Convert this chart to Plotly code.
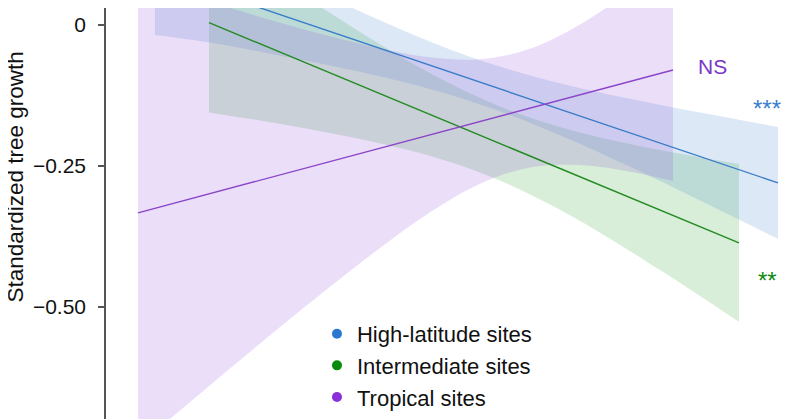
import plotly.graph_objects as go

# ---- data ----
# x: arbitrary predictor units (axis not visible in the crop)
high_x = [0.49, 1.04, 1.64, 2.24, 2.84, 3.44, 4.04, 4.64, 5.24, 5.94, 6.72]
high_hi = [0.2002, 0.1518, 0.0995, 0.0488, 0.0002, -0.0434, -0.0794, -0.1078, -0.1310, -0.1555, -0.1809]
high_lo = [-0.0177, -0.0312, -0.0509, -0.0718, -0.0952, -0.1236, -0.1596, -0.2032, -0.2516, -0.3112, -0.3794]
high_fit_x = [0.49, 6.72]
high_fit_y = [0.0933, -0.2801]

mid_x = [1.03, 1.54, 2.04, 2.54, 3.04, 3.54, 4.04, 4.54, 5.04, 5.54, 5.94, 6.33]
mid_hi = [0.1633, 0.1025, 0.0441, -0.0124, -0.0656, -0.1129, -0.1518, -0.1812, -0.2037, -0.2220, -0.2349, -0.2465]
mid_lo = [-0.1551, -0.1695, -0.1849, -0.2021, -0.2227, -0.2488, -0.2837, -0.3280, -0.3793, -0.4348, -0.4807, -0.5266]
mid_fit_x = [1.03, 6.33]
mid_fit_y = [0.0041, -0.3865]

trop_x = [0.32, 0.74, 1.24, 1.74, 2.24, 2.74, 3.24, 3.74, 4.24, 4.74, 5.24, 5.67]
trop_hi = [0.0800, 0.0567, 0.0300, 0.0041, -0.0202, -0.0417, -0.0573, -0.0610, -0.0424, 0.0007, 0.0601, 0.1174]
trop_lo = [-0.7466, -0.6837, -0.6094, -0.5360, -0.4645, -0.3956, -0.3324, -0.2816, -0.2527, -0.2486, -0.2605, -0.2770]
trop_fit_x = [0.32, 5.67]
trop_fit_y = [-0.3333, -0.0798]

legend_names = ["High-latitude sites", "Intermediate sites", "Tropical sites"]
sig_labels = ["***", "**", "NS"]
y_ticks = [0, -0.25, -0.5]
y_ticktext = ["0", "\u22120.25", "\u22120.50"]

FONT = "Liberation Sans, Arial, Helvetica, sans-serif"

band_fill = {
    "mid": "rgba(60,170,60,0.2)",
    "high": "rgba(80,140,210,0.2)",
    "trop": "rgba(150,90,220,0.2)",
}
line_col = {"high": "#3a7dc9", "mid": "#238a23", "trop": "#8a45c8"}
dot_col = {"high": "#2a78d0", "mid": "#0a8a0a", "trop": "#8a30d8"}

fig = go.Figure()

def add_band(x, lo, hi, fill):
    fig.add_trace(go.Scatter(x=x, y=lo, mode="lines", line=dict(width=0, shape="spline"),
                             showlegend=False, hoverinfo="skip"))
    fig.add_trace(go.Scatter(x=x, y=hi, mode="lines", line=dict(width=0, shape="spline"),
                             fill="tonexty", fillcolor=fill, showlegend=False, hoverinfo="skip"))

add_band(mid_x, mid_lo, mid_hi, band_fill["mid"])
add_band(high_x, high_lo, high_hi, band_fill["high"])
add_band(trop_x, trop_lo, trop_hi, band_fill["trop"])

for fx, fy, key in [(high_fit_x, high_fit_y, "high"), (mid_fit_x, mid_fit_y, "mid"),
                    (trop_fit_x, trop_fit_y, "trop")]:
    fig.add_trace(go.Scatter(x=fx, y=fy, mode="lines", line=dict(color=line_col[key], width=1.4),
                             showlegend=False, hoverinfo="skip"))

for name, key in zip(legend_names, ["high", "mid", "trop"]):
    fig.add_trace(go.Scatter(x=[None], y=[None], mode="markers", name=name,
                             marker=dict(color=dot_col[key], size=10)))

# significance labels
fig.add_annotation(x=6.06, y=-0.0745, text=sig_labels[2], showarrow=False,
                   font=dict(family=FONT, size=21, color="#7a35c8"))
fig.add_annotation(x=6.61, y=-0.149, text=sig_labels[0], showarrow=False,
                   font=dict(family=FONT, size=24, color="#3a80d0"))
fig.add_annotation(x=6.61, y=-0.454, text=sig_labels[1], showarrow=False,
                   font=dict(family=FONT, size=24, color="#0f8a0f"))

# y-axis title (centred on the full, uncropped panel)
fig.add_annotation(xref="paper", yref="paper", x=-0.131, y=0.5876, text="Standardized tree growth",
                   textangle=-90, showarrow=False, xanchor="center", yanchor="middle",
                   font=dict(family=FONT, size=22.5, color="#111"))

# the page body adds an 8 px offset; size the figure so it fills the 800x419 view exactly
fig.update_layout(
    width=792, height=411,
    margin=dict(l=98, r=0, t=0, b=0, autoexpand=False),
    paper_bgcolor="white", plot_bgcolor="white",
    font=dict(family=FONT, size=21, color="#111"),
    showlegend=True,
    legend=dict(x=0.304, y=0.258, xanchor="left", yanchor="top", traceorder="normal",
                bgcolor="rgba(0,0,0,0)", font=dict(family=FONT, size=22, color="#111"),
                itemwidth=30, tracegroupgap=0),
    xaxis=dict(visible=False, range=[0, 6.94]),
    yaxis=dict(range=[-0.699, 0.0301], tickvals=y_ticks, ticktext=y_ticktext,
               showgrid=False, zeroline=False, showline=True, linecolor="#555", linewidth=1.5,
               ticks="outside", ticklen=6, tickcolor="#555", tickwidth=1.5,
               ticklabelstandoff=8, tickfont=dict(family=FONT, size=21, color="#111")),
)

fig.write_html("out.html")
